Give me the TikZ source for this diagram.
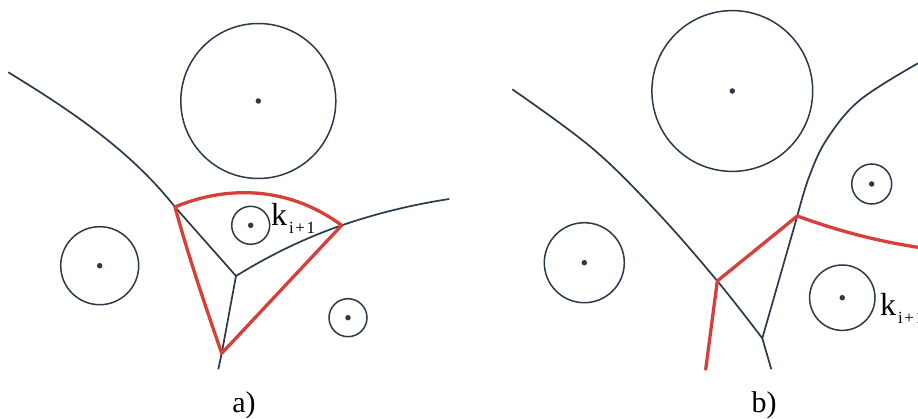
\documentclass[tikz,border=0pt]{standalone}
\usepackage{fontspec}
\setmainfont{Liberation Serif}
\definecolor{edgec}{HTML}{2B3A4A}
\definecolor{redc}{HTML}{D6403A}
\tikzset{
  cell/.style={draw=edgec, line width=1.7pt},
  ring/.style={draw=edgec, line width=1.5pt},
  redline/.style={draw=redc, line width=3.3pt, line join=round, line cap=round},
  site/.style={circle, fill=edgec, inner sep=0pt, minimum size=5.5pt},
  lab/.style={inner sep=0pt, font=\fontsize{32}{32}\selectfont},
  captext/.style={inner sep=0pt, font=\fontsize{30}{30}\selectfont}
}
\newcommand{\kinext}{k\hspace{2pt}\raisebox{-8pt}{\fontsize{17}{17}\selectfont i\kern1.5pt+\kern1.5pt1}}
\begin{document}
\begin{tikzpicture}[x=1pt,y=-1pt]
\useasboundingbox (0,0) rectangle (918,419);
\clip (0,0) rectangle (918,419);
\fill[white] (0,0) rectangle (918,419);

% ---------- panel a ----------
\coordinate (a0) at (8.3,72.3);
\coordinate (aL) at (175,207);
\coordinate (aC) at (236,276);
\coordinate (aR) at (341.7,225.3);
\coordinate (aE) at (449.3,199);
\coordinate (aB) at (221.7,353.3);
\coordinate (aD) at (218.3,369.3);

\draw[ring] (258.3,101) circle (77.5);
\node[site] (sa1) at (258.3,101) {};
\draw[ring] (99.7,265.7) circle (39);
\node[site] (sa2) at (99.7,265.7) {};
\draw[ring] (250.7,225.3) circle (19);
\node[site] (sa3) at (250.7,225.3) {};
\draw[ring] (348,317.7) circle (19);
\node[site] (sa4) at (348,317.7) {};

\draw[cell] (a0) .. controls (70,110) and (130,150) .. (aL) -- (aC);
\draw[cell] (aC) .. controls (270,255) and (305,238) .. (aR)
               .. controls (375,214) and (410,205) .. (aE);
\draw[cell] (aC) -- (aB) -- (aD);

\draw[redline] (aL) .. controls (215,190) and (280,180) .. (aR) -- (aB)
               .. controls (205,305) and (188,255) .. (aL) -- cycle;

\node[lab, anchor=base west] (ka) at (271,225.7) {\kinext};
\node[captext, anchor=base] (capa) at (244,412) {a)};

% ---------- panel b ----------
\coordinate (b0) at (512.3,89.3);
\coordinate (bL) at (717.3,281);
\coordinate (bV) at (762.3,338.3);
\coordinate (bD) at (771.3,369.3);
\coordinate (bT) at (918,63.3);
\coordinate (bM) at (797.3,216);
\coordinate (bE) at (918,247.3);
\coordinate (bS) at (705.7,369.3);

\draw[ring] (732.3,91) circle (80.4);
\node[site] (sb1) at (732.3,91) {};
\draw[ring] (871.7,184) circle (20);
\node[site] (sb2) at (871.7,184) {};
\draw[ring] (584.3,262.7) circle (40);
\node[site] (sb3) at (584.3,262.7) {};
\draw[ring] (842.3,297.7) circle (32.7);
\node[site] (sb4) at (842.3,297.7) {};

\draw[cell] plot[smooth, tension=0.6] coordinates {(512.3,89.3) (592,148) (657,212) (717.3,281) (762.3,338.3)} -- (bD);
\draw[cell] plot[smooth, tension=0.6] coordinates {(918,63.3) (860,100) (827,139) (809,177) (797.3,216)} -- (bV);

\draw[redline] (bS) -- (bL) -- (bM) .. controls (830,228) and (870,240) .. (bE);

\node[lab, anchor=base west] (kb) at (880,315.7) {\kinext};
\node[captext, anchor=base] (capb) at (764,412) {b)};
\end{tikzpicture}
\end{document}
